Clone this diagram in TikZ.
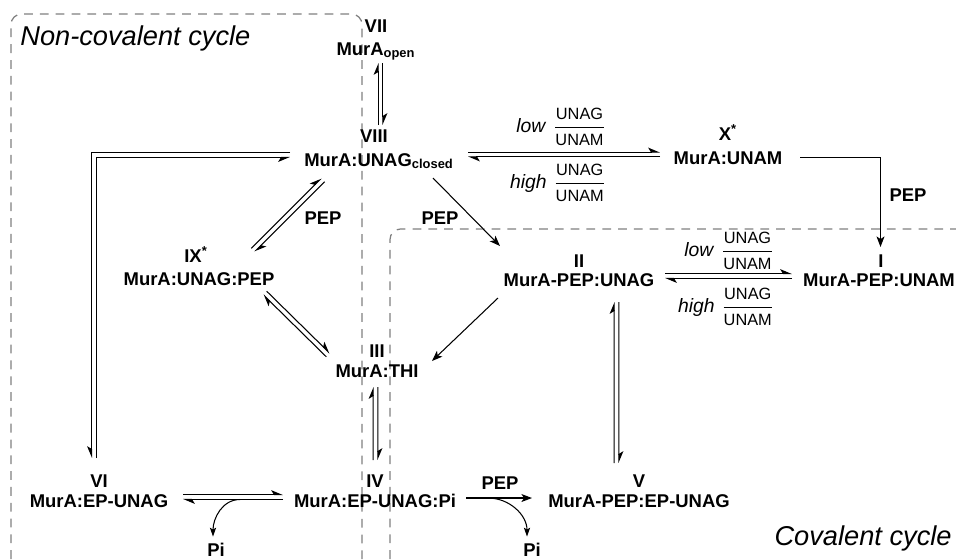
\documentclass[tikz,border=0pt]{standalone}
\usepackage{fontspec}
\setmainfont{Liberation Sans}
\usetikzlibrary{arrows.meta, calc}

\newcommand{\eqpair}[2]{%
\draw[eq] ($(#1)!1.4pt!90:(#2)$) -- ($(#2)!1.4pt!-90:(#1)$);
\draw[eq] ($(#2)!1.4pt!90:(#1)$) -- ($(#1)!1.4pt!-90:(#2)$);
}
\newcommand{\ratio}[1]{\textit{#1}\hspace{4pt}$\displaystyle\frac{\mbox{\fontsize{9.3}{10}\selectfont UNAG}}{\mbox{\fontsize{9.3}{10}\selectfont UNAM}}$}

\begin{document}
\begin{tikzpicture}[x=0.02cm, y=-0.02cm,
  sp/.style={font=\bfseries\fontsize{10.5}{12}\selectfont, inner sep=1pt, anchor=base},
  cond/.style={font=\fontsize{11}{13}\selectfont, inner sep=0pt},
  cyc/.style={font=\itshape\fontsize{15.5}{18}\selectfont, inner sep=0pt},
  cycbox/.style={draw=gray, line width=0.7pt, dash pattern=on 5pt off 4pt, rounded corners=6pt},
  eq/.style={line width=0.6pt, -{Stealth[harpoon, length=6pt, width=5pt, inset=1.5pt]}},
  eqs/.style={line width=0.6pt, -{Stealth[harpoon, swap, length=6pt, width=5pt, inset=1.5pt]}},
  one/.style={line width=0.6pt, -{Stealth[length=6pt, width=4.5pt, inset=1.5pt]}},
  pi/.style={line width=0.6pt, -{Stealth[length=5pt, width=3.5pt, inset=1pt]}}]
\useasboundingbox (0,0) rectangle (956,559);

% the two cycles
\draw[cycbox] (11,559) -- (11,14) -- (362,14) -- (362,559);
\draw[cycbox] (390,559) -- (390,229) -- (956,229);
\node[cyc, anchor=base west] (tnc) at (20,45) {Non-covalent cycle};
\node[cyc, anchor=base east] (tc) at (952,545) {Covalent cycle};

% species
\node[sp] (n7) at (376,55) {MurA\textsubscript{open}};
\node[sp] (n8) at (379,166) {MurA:UNAG\textsubscript{closed}};
\node[sp] (n10) at (728,164) {MurA:UNAM};
\node[sp] (n9) at (199,285) {MurA:UNAG:PEP};
\node[sp] (n2) at (579,286) {MurA-PEP:UNAG};
\node[sp] (n1) at (879,286) {MurA-PEP:UNAM};
\node[sp] (n3) at (377,377) {MurA:THI};
\node[sp] (n4) at (375,507) {MurA:EP-UNAG:Pi};
\node[sp] (n6) at (99,507) {MurA:EP-UNAG};
\node[sp] (n5) at (639,507) {MurA-PEP:EP-UNAG};
\node[sp] (pi1) at (216,556) {Pi};
\node[sp] (pi2) at (532,556) {Pi};

\node[sp] (l7) at ([shift={(0,-23)}]n7.base) {VII};
\node[sp] (l8) at ([shift={(-5,-24)}]n8.base) {VIII};
\node[sp] (l10) at ([shift={(0,-24)}]n10.base) {X\textsuperscript{*}};
\node[sp] (l9) at ([shift={(-3,-23)}]n9.base) {IX\textsuperscript{*}};
\node[sp] (l2) at ([shift={(0,-19)}]n2.base) {II};
\node[sp] (l1) at ([shift={(2,-19)}]n1.base) {I};
\node[sp] (l3) at ([shift={(0,-20)}]n3.base) {III};
\node[sp] (l4) at ([shift={(0,-20)}]n4.base) {IV};
\node[sp] (l6) at ([shift={(0,-20)}]n6.base) {VI};
\node[sp] (l5) at ([shift={(0,-20)}]n5.base) {V};

% conditions
\node[sp, anchor=center] (pep1) at (323,218.5) {PEP};
\node[sp, anchor=center] (pep2) at (440,218.5) {PEP};
\node[sp, anchor=center] (pep3) at (908,195) {PEP};
\node[sp, anchor=center] (pep4) at (500,483.5) {PEP};
\node[cond] (r1) at (561,127) {\ratio{low}};
\node[cond] (r2) at (558,183) {\ratio{high}};
\node[cond] (r3) at (729,251) {\ratio{low}};
\node[cond] (r4) at (726,307) {\ratio{high}};

% equilibria
\coordinate (a78) at ([shift={(1.5,-41)}]n8.base);
\coordinate (b78) at ([shift={(4.5,8)}]n7.base);
\eqpair{a78}{b78}
\coordinate (a810) at ([shift={(89,-11.5)}]n8.base);
\coordinate (b810) at ([shift={(-68,-9.5)}]n10.base);
\eqpair{a810}{b810}
\coordinate (a98) at ([shift={(54,-35)}]n9.base);
\coordinate (b98) at ([shift={(-56,14)}]n8.base);
\eqpair{a98}{b98}
\coordinate (a93) at ([shift={(66,8)}]n9.base);
\coordinate (b93) at ([shift={(-49,-22)}]n3.base);
\eqpair{a93}{b93}
\coordinate (a43) at ([shift={(0.5,-47)}]n4.base);
\coordinate (b43) at ([shift={(-1.5,10)}]n3.base);
\eqpair{a43}{b43}
\coordinate (a52) at ([shift={(-22.5,-44)}]n5.base);
\coordinate (b52) at ([shift={(37.5,16)}]n2.base);
\eqpair{a52}{b52}
\coordinate (a21) at ([shift={(86,-10)}]n2.base);
\coordinate (b21) at ([shift={(-87,-10)}]n1.base);
\eqpair{a21}{b21}
\coordinate (a64) at ([shift={(84,-10)}]n6.base);
\coordinate (b64) at ([shift={(-92,-10)}]n4.base);
\eqpair{a64}{b64}

\coordinate (c86) at ([shift={(-89,-11)}]n8.base);
\coordinate (d86) at ([shift={(-5,-49)}]n6.base);
\draw[eqs] ([shift={(0,-2.5)}]c86) -| ([shift={(-2.5,0)}]d86);
\draw[eqs] ([shift={(2.5,0)}]d86) |- ([shift={(0,2.5)}]c86);

% one-way steps
\draw[one] ([shift={(54,12)}]n8.base) -- ([shift={(-79,-40)}]n2.base);
\draw[one] ([shift={(-81,12)}]n2.base) -- ([shift={(55,-16)}]n3.base);
\draw[one] ([shift={(72,-6.5)}]n10.base) -| ([shift={(1.5,-39)}]n1.base);
\draw[one] ([shift={(91,-9)}]n4.base) -- ([shift={(-107,-9)}]n5.base);
\draw[pi] ([shift={(-135,-7.5)}]n4.base) to[out=180, in=90] ([shift={(-3,-4)}]pi1.north);
\draw[pi] ([shift={(113,-9)}]n4.base) to[out=0, in=90] ([shift={(-5,-4)}]pi2.north);
\end{tikzpicture}
\end{document}
